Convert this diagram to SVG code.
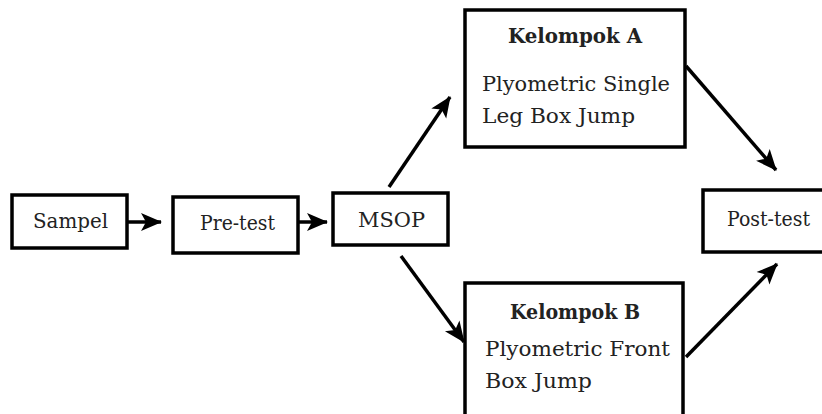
<svg xmlns="http://www.w3.org/2000/svg" width="822" height="414" viewBox="0 0 822 414">
<defs>
<style>
.box{fill:#fff;stroke:#000;stroke-width:3.5}
.t{font-family:"DejaVu Serif","Liberation Serif",serif;font-size:21px;fill:#222}
.b{font-weight:bold}
.c{fill:none;stroke:#000;stroke-width:3.5}
</style>
<marker id="ah" markerUnits="userSpaceOnUse" markerWidth="22" markerHeight="22" viewBox="0 0 22 22" refX="20" refY="11" orient="auto">
<path d="M0,2 L21,11 L0,20 L5,11 Z" fill="#000"/>
</marker>
</defs>
<rect width="822" height="414" fill="#fff"/>
<g id="connectors">
<line class="c" x1="128" y1="222" x2="161" y2="222" marker-end="url(#ah)"/>
<line class="c" x1="299" y1="222" x2="327" y2="222" marker-end="url(#ah)"/>
<line class="c" x1="389" y1="187" x2="450" y2="97" marker-end="url(#ah)"/>
<line class="c" x1="401" y1="256" x2="464" y2="342" marker-end="url(#ah)"/>
<line class="c" x1="686" y1="66" x2="776" y2="170" marker-end="url(#ah)"/>
<line class="c" x1="686" y1="357" x2="777" y2="264" marker-end="url(#ah)"/>
</g>
<g id="sampel">
<rect class="box" x="12" y="195" width="115" height="53"/>
<text class="t" x="33" y="228" textLength="75" lengthAdjust="spacingAndGlyphs">Sampel</text>
</g>
<g id="pretest">
<rect class="box" x="173" y="197" width="125" height="56"/>
<text class="t" x="200" y="230" textLength="75" lengthAdjust="spacingAndGlyphs">Pre-test</text>
</g>
<g id="msop">
<rect class="box" x="333" y="193" width="115" height="52"/>
<text class="t" x="358" y="227" textLength="67" lengthAdjust="spacingAndGlyphs">MSOP</text>
</g>
<g id="kelompokA">
<rect class="box" x="465" y="10" width="220" height="137"/>
<text class="t b" x="508" y="43" textLength="134" lengthAdjust="spacingAndGlyphs">Kelompok A</text>
<text class="t" x="482" y="91" textLength="188" lengthAdjust="spacingAndGlyphs">Plyometric Single</text>
<text class="t" x="482" y="123" textLength="153" lengthAdjust="spacingAndGlyphs">Leg Box Jump</text>
</g>
<g id="kelompokB">
<rect class="box" x="465" y="283" width="218" height="140"/>
<text class="t b" x="510" y="319" textLength="130" lengthAdjust="spacingAndGlyphs">Kelompok B</text>
<text class="t" x="485" y="356" textLength="185" lengthAdjust="spacingAndGlyphs">Plyometric Front</text>
<text class="t" x="485" y="388" textLength="107" lengthAdjust="spacingAndGlyphs">Box Jump</text>
</g>
<g id="posttest">
<rect class="box" x="703" y="190" width="125" height="62"/>
<text class="t" x="727" y="226" textLength="83" lengthAdjust="spacingAndGlyphs">Post-test</text>
</g>
</svg>
